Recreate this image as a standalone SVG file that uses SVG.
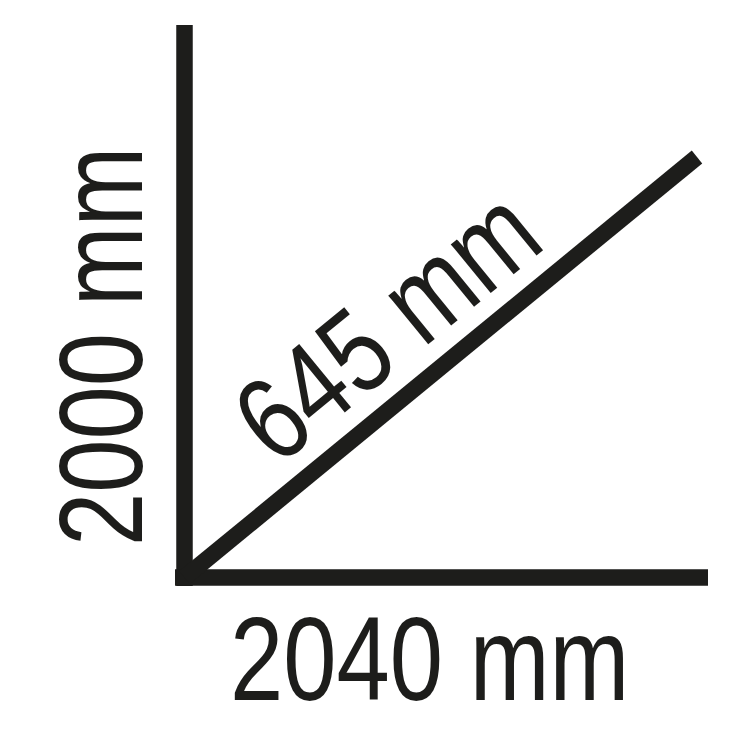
<svg xmlns="http://www.w3.org/2000/svg" width="750" height="750" viewBox="0 0 750 750">
<style>
.ln{stroke:#1d1d1b;stroke-width:16.5;fill:none;stroke-linecap:butt}
.lb{font-family:"Liberation Sans",Arial,sans-serif;fill:#1d1d1b}
</style>
<rect width="750" height="750" fill="#fff"/>
<g id="connectors">
<line class="ln" x1="184.5" y1="25" x2="184.5" y2="586"/>
<line class="ln" x1="175" y1="577.5" x2="708" y2="577.5"/>
<line class="ln" x1="184.5" y1="577.5" x2="697" y2="157"/>
</g>
<g id="label-width"><text class="lb" font-size="119" transform="translate(230,700) scale(0.805,1)">2040 mm</text></g>
<g id="label-height"><text class="lb" font-size="119" transform="translate(142,546) rotate(-90) scale(0.805,1)">2000 mm</text></g>
<g id="label-depth"><text class="lb" font-size="119" transform="translate(277,468) rotate(-39.3) scale(0.815,1)">645 mm</text></g>
</svg>
